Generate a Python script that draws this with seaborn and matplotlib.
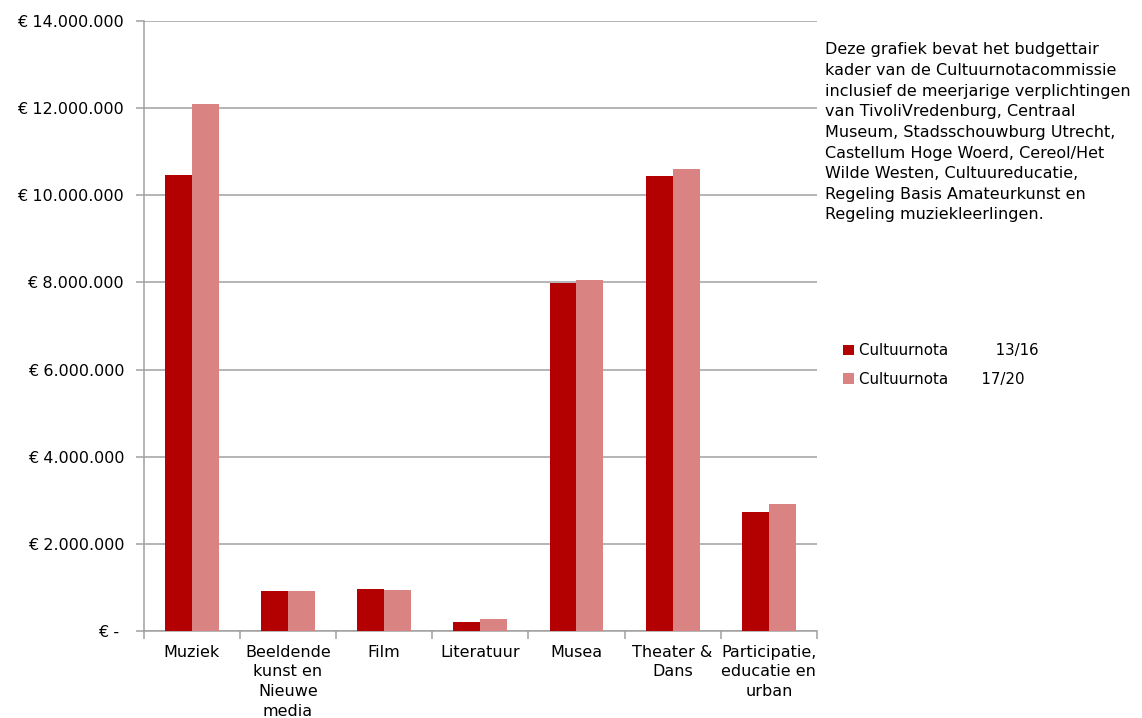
import matplotlib
matplotlib.use("Agg")
import matplotlib.pyplot as plt
import seaborn as sns
import pandas as pd
import numpy as np
from matplotlib.ticker import FuncFormatter, FixedLocator

categories = ["Muziek", "Beeldende\nkunst en\nNieuwe\nmedia", "Film", "Literatuur",
              "Musea", "Theater &\nDans", "Participatie,\neducatie en\nurban"]
series_names = ["Cultuurnota          13/16", "Cultuurnota       17/20"]
values_1316 = [10460000, 920000, 960000, 210000, 7980000, 10440000, 2720000]
values_1720 = [12090000, 920000, 940000, 270000, 8050000, 10610000, 2920000]
colors = ["#B30000", "#D98383"]
note = ("Deze grafiek bevat het budgettair\n"
        "kader van de Cultuurnotacommissie\n"
        "inclusief de meerjarige verplichtingen\n"
        "van TivoliVredenburg, Centraal\n"
        "Museum, Stadsschouwburg Utrecht,\n"
        "Castellum Hoge Woerd, Cereol/Het\n"
        "Wilde Westen, Cultuureducatie,\n"
        "Regeling Basis Amateurkunst en\n"
        "Regeling muziekleerlingen.")

df = pd.DataFrame({
    "categorie": categories * 2,
    "serie": [series_names[0]] * 7 + [series_names[1]] * 7,
    "waarde": values_1316 + values_1720,
})

sns.set_style("white")
plt.rcParams["font.family"] = ["DejaVu Sans"]
plt.rcParams["text.color"] = "black"
plt.rcParams["xtick.color"] = "black"
plt.rcParams["ytick.color"] = "black"

fig = plt.figure(figsize=(11.42, 7.18), dpi=100)
ax = fig.add_axes([0.1257, 0.1212, 0.5897, 0.8496])

sns.barplot(data=df, x="categorie", y="waarde", hue="serie", order=categories,
            hue_order=series_names, palette=colors, width=0.56, saturation=1,
            errorbar=None, ax=ax, zorder=3, linewidth=0)

ax.set_xlim(-0.5, 6.5)
ax.set_ylim(0, 14000000)
ax.set_yticks(np.arange(0, 14000001, 2000000))

def fmt(v, pos):
    if v == 0:
        return "€ - "
    return "€ " + f"{int(v):,}".replace(",", ".")

ax.yaxis.set_major_formatter(FuncFormatter(fmt))
ax.grid(axis="y", color="#A0A0A0", linewidth=1.1, zorder=0)
ax.set_axisbelow(True)

for s in ["top", "right"]:
    ax.spines[s].set_visible(False)
for s in ["left", "bottom"]:
    ax.spines[s].set_color("#A0A0A0")
    ax.spines[s].set_linewidth(1.1)

ax.tick_params(axis="y", which="major", length=6, color="#A0A0A0", width=1.1,
               labelsize=11.5, pad=8, direction="out", left=True, labelcolor="black")
ax.tick_params(axis="x", which="major", length=0, labelsize=11.5, pad=10,
               labelcolor="black")
ax.xaxis.set_minor_locator(FixedLocator(np.arange(-0.5, 7.0, 1.0)))
ax.tick_params(axis="x", which="minor", length=6, color="#A0A0A0", width=1.1,
               direction="out", bottom=True)
ax.set_xticks(range(7))
ax.set_xticklabels(categories, linespacing=1.38)
ax.set_xlabel("")
ax.set_ylabel("")

leg = ax.legend(loc="upper left", bbox_to_anchor=(1.02, 0.5), frameon=False,
                fontsize=10.8, handlelength=0.7, handleheight=0.7,
                handletextpad=0.35, labelspacing=0.9, borderaxespad=0)
for t in leg.get_texts():
    t.set_color("black")
leg.set_bbox_to_anchor((0.733, 0.53), transform=fig.transFigure)

fig.text(0.722, 0.941, note, fontsize=11.5, va="top", ha="left", linespacing=1.47,
         color="black")

fig.savefig("out.png", dpi=100)
